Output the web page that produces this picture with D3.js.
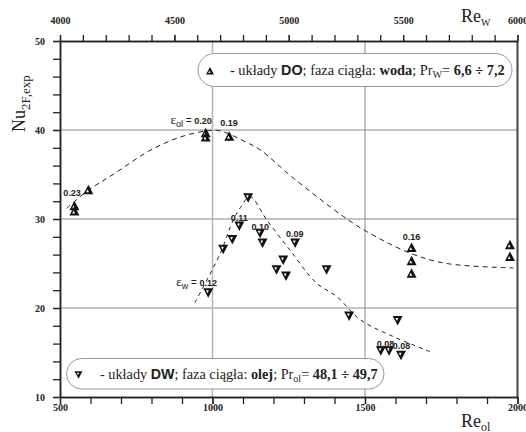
<!DOCTYPE html>
<html>
<head>
<meta charset="utf-8">
<script src="https://cdn.jsdelivr.net/npm/d3@7"></script>
<style>
body { margin:0; background:#fff; }
svg { display:block; }
.tick text { font-family:"Liberation Serif","Times New Roman",serif; font-weight:bold; font-size:10px; fill:#222; }
.small { font-family:"Liberation Sans",Arial,sans-serif; font-weight:bold; font-size:9px; fill:#222; }
</style>
</head>
<body>
<svg width="526" height="432"></svg>
<script>
//układy DO (faza ciągła woda) - plotted against Re_w (top axis)
var doRe = [4063, 4063, 4124, 4637, 4637, 4740, 5537, 5537, 5537, 5967, 5967];
var doNu = [31.5, 30.9, 33.3, 39.7, 39.2, 39.3, 26.8, 25.3, 23.9, 27.1, 25.8];

//układy DW (faza ciągła olej) - plotted against Re_ol (bottom axis)
var dwRe = [1117, 1088, 1065, 1035, 1156, 1164, 1271, 1232, 1210, 1241, 1374, 986, 1448, 1607, 1552, 1579, 1618];
var dwNu = [32.4, 29.2, 27.7, 26.6, 28.4, 27.3, 27.3, 25.4, 24.3, 23.6, 24.3, 21.7, 19.1, 18.6, 15.2, 15.2, 14.7];

//dashed trend curves
var doCurveRe = [4029, 4122, 4232, 4393, 4525, 4640, 4700, 4816, 4874, 5020, 5238, 5340, 5537, 5690, 5982];
var doCurveNu = [31.2, 33.2, 35.0, 37.7, 39.2, 39.9, 39.9, 38.6, 37.8, 34.6, 30.3, 28.6, 26.1, 25.0, 24.5];
var dwCurveRe = [942, 1025, 1068, 1092, 1123, 1178, 1254, 1341, 1407, 1484, 1592, 1713];
var dwCurveNu = [20.6, 26.1, 29.9, 31.3, 32.5, 29.9, 26.5, 22.8, 21.3, 18.7, 16.8, 15.1];

//epsilon labels
var doLabelText = ["0.23", "0.19", "0.16"];
var doLabelRe = [4052, 4739, 5537];
var doLabelNu = [32.6, 40.45, 27.6];
var dwLabelText = ["0.11", "0.10", "0.09", "0.08", "0.08"];
var dwLabelRe = [1088, 1157, 1270, 1567, 1620];
var dwLabelNu = [29.8, 28.8, 28.0, 15.65, 15.4];

//ticks
var yMajor = [10, 20, 30, 40, 50];
var yMinor = d3.range(10, 51, 2);
var xBotMajor = [500, 1000, 1500, 2000];
var xBotMinor = d3.range(500, 2001, 100);
var xTopMajor = [4000, 4500, 5000, 5500, 6000];
var xTopMinor = d3.range(4000, 6001, 100);
var hGrid = [40, 30, 20];
var vGrid = [1000, 1500];

var serif = '"Liberation Serif","Times New Roman",serif';
var sans = '"Liberation Sans",Arial,sans-serif';

var svg = d3.select("svg");
var margins = {left:60, right:8.5, top:41, bottom:35};
var width = 526 - margins.left - margins.right;
var height = 432 - margins.top - margins.bottom;

var xBot = d3.scaleLinear().domain([500, 2000]).range([margins.left, margins.left + width]);
var xTop = d3.scaleLinear().domain([4000, 6000]).range([margins.left, margins.left + width]);
var yScale = d3.scaleLinear().domain([10, 50]).range([margins.top + height, margins.top]);

//grid
svg.append("g").selectAll("line")
    .data(hGrid)
    .enter()
    .append("line")
    .attr("x1", margins.left).attr("x2", margins.left + width)
    .attr("y1", function(d){return yScale(d);})
    .attr("y2", function(d){return yScale(d);})
    .attr("stroke", function(d){return d == 30 ? "#c4c4c4" : "#8a8a8a";})
    .attr("stroke-width", function(d){return d == 30 ? 2 : 1;});

svg.append("g").selectAll("line")
    .data(vGrid)
    .enter()
    .append("line")
    .attr("y1", margins.top).attr("y2", margins.top + height)
    .attr("x1", function(d){return xBot(d);})
    .attr("x2", function(d){return xBot(d);})
    .attr("stroke", function(d){return d == 1000 ? "#b4b4b4" : "#8a8a8a";})
    .attr("stroke-width", function(d){return d == 1000 ? 1.5 : 1;});

//right frame
svg.append("line")
    .attr("x1", margins.left + width).attr("x2", margins.left + width)
    .attr("y1", margins.top).attr("y2", margins.top + height)
    .attr("stroke", "#444").attr("stroke-width", 2);

//axes
var styleAxis = function(g)
{
    g.attr("font-family", null);
    g.select(".domain").attr("stroke", "#222").attr("stroke-width", 1.5);
    g.selectAll(".tick line").attr("stroke", "#222").attr("stroke-width", 1.3);
}

svg.append("g")
    .attr("transform", "translate(" + margins.left + ",0)")
    .call(d3.axisLeft(yScale).tickValues(yMinor).tickSize(7).tickSizeOuter(0).tickFormat(""))
    .call(styleAxis);
svg.append("g")
    .attr("transform", "translate(" + margins.left + ",0)")
    .call(d3.axisLeft(yScale).tickValues(yMajor).tickSize(7).tickPadding(8).tickSizeOuter(0).tickFormat(d3.format("d")))
    .call(styleAxis);

svg.append("g")
    .attr("transform", "translate(0," + (margins.top + height) + ")")
    .call(d3.axisBottom(xBot).tickValues(xBotMinor).tickSize(7).tickSizeOuter(0).tickFormat(""))
    .call(styleAxis);
svg.append("g")
    .attr("transform", "translate(0," + (margins.top + height) + ")")
    .call(d3.axisBottom(xBot).tickValues(xBotMajor).tickSize(7).tickPadding(0).tickSizeOuter(0).tickFormat(d3.format("d")))
    .call(styleAxis);

svg.append("g")
    .attr("transform", "translate(0," + margins.top + ")")
    .call(d3.axisTop(xTop).tickValues(xTopMinor).tickSize(6).tickSizeOuter(0).tickFormat(""))
    .call(styleAxis);
svg.append("g")
    .attr("transform", "translate(0," + margins.top + ")")
    .call(d3.axisTop(xTop).tickValues(xTopMajor).tickSize(6).tickPadding(11).tickSizeOuter(0).tickFormat(d3.format("d")))
    .call(styleAxis);

//axis titles
var reW = svg.append("text")
    .attr("x", 461).attr("y", 22)
    .attr("font-family", serif).attr("font-size", 18).attr("fill", "#222");
reW.append("tspan").text("Re");
reW.append("tspan").attr("font-size", 10).attr("dy", 4).text("W");

var reOl = svg.append("text")
    .attr("x", 461).attr("y", 427)
    .attr("font-family", serif).attr("font-size", 18).attr("fill", "#222");
reOl.append("tspan").text("Re");
reOl.append("tspan").attr("font-size", 12).attr("dy", 4).text("ol");

var nu = svg.append("text")
    .attr("transform", "translate(25,132) rotate(-90)")
    .attr("font-family", serif).attr("font-size", 18).attr("fill", "#222");
nu.append("tspan").text("Nu");
nu.append("tspan").attr("font-size", 13).attr("dy", 5).text("2F,exp");

//dashed curves
var doLine = d3.line()
    .x(function(d){return xTop(d[0]);})
    .y(function(d){return yScale(d[1]);})
    .curve(d3.curveCatmullRom);
var dwLine = d3.line()
    .x(function(d){return xBot(d[0]);})
    .y(function(d){return yScale(d[1]);})
    .curve(d3.curveCatmullRom);

svg.append("path")
    .attr("d", doLine(d3.zip(doCurveRe, doCurveNu)))
    .attr("fill", "none").attr("stroke", "#222").attr("stroke-width", 1)
    .attr("stroke-dasharray", "5,4");
svg.append("path")
    .attr("d", dwLine(d3.zip(dwCurveRe, dwCurveNu)))
    .attr("fill", "none").attr("stroke", "#222").attr("stroke-width", 1)
    .attr("stroke-dasharray", "4,4");

//markers: bold delta / nabla
var upPath = "M0,-5L5,4.5L-5,4.5Z";
var upHole = "M-0.8,-0.5L0.6,2.5L-2.2,2.5Z";
var downPath = "M0,5L5,-4.5L-5,-4.5Z";
var downHole = "M-0.8,0.5L0.6,-2.5L-2.2,-2.5Z";

var drawMarker = function(g, up)
{
    g.append("path").attr("d", up ? upPath : downPath).attr("fill", "#111");
    g.append("path").attr("d", up ? upHole : downHole).attr("fill", "#fff");
}

svg.append("g").selectAll("g")
    .data(d3.zip(doRe, doNu))
    .enter()
    .append("g")
    .attr("transform", function(d){return "translate(" + xTop(d[0]) + "," + yScale(d[1]) + ")";})
    .each(function(){drawMarker(d3.select(this), true);});

svg.append("g").selectAll("g")
    .data(d3.zip(dwRe, dwNu))
    .enter()
    .append("g")
    .attr("transform", function(d){return "translate(" + xBot(d[0]) + "," + yScale(d[1]) + ")";})
    .each(function(){drawMarker(d3.select(this), false);});

//epsilon labels
svg.append("g").selectAll("text")
    .data(d3.zip(doLabelRe, doLabelNu, doLabelText))
    .enter()
    .append("text")
    .classed("small", true)
    .attr("text-anchor", "middle")
    .attr("x", function(d){return xTop(d[0]);})
    .attr("y", function(d){return yScale(d[1]);})
    .text(function(d){return d[2];});

svg.append("g").selectAll("text")
    .data(d3.zip(dwLabelRe, dwLabelNu, dwLabelText))
    .enter()
    .append("text")
    .classed("small", true)
    .attr("text-anchor", "middle")
    .attr("x", function(d){return xBot(d[0]);})
    .attr("y", function(d){return yScale(d[1]);})
    .text(function(d){return d[2];});

var epsLabel = function(x, y, sub, val)
{
    var t = svg.append("text")
        .attr("x", x).attr("y", y)
        .attr("text-anchor", "end")
        .attr("fill", "#222");
    t.append("tspan").attr("font-family", serif).attr("font-size", 13).text("ε");
    t.append("tspan").attr("font-family", sans).attr("font-size", 9).attr("dy", 3).text(sub);
    t.append("tspan").attr("font-family", sans).attr("font-size", 10).attr("dy", -3).text(" = ");
    t.append("tspan").attr("font-family", sans).attr("font-weight", "bold").attr("font-size", 9).text(val);
}
epsLabel(xTop(4664), yScale(40.67), "ol", "0.20");
epsLabel(xBot(1015), yScale(22.5), "w", "0.12");

//legend boxes - text is fitted to run from textX to textEnd
var legendBox = function(x1, x2, y1, y2, up, textX, textEnd, parts)
{
    var g = svg.append("g");
    g.append("rect")
        .attr("x", x1).attr("y", y1)
        .attr("width", x2 - x1).attr("height", y2 - y1)
        .attr("rx", (y2 - y1) / 2).attr("ry", (y2 - y1) / 2)
        .attr("fill", "#fff").attr("stroke", "#999").attr("stroke-width", 1);
    var m = g.append("g")
        .attr("transform", "translate(" + (x1 + 12) + "," + ((y1 + y2) / 2 + 1) + ") scale(0.8)");
    drawMarker(m, up);
    var t = g.append("text")
        .attr("x", textX).attr("y", (y1 + y2) / 2 + 5)
        .attr("font-family", serif).attr("font-size", 13).attr("fill", "#222");
    parts.forEach(function(p)
    {
        var s = t.append("tspan").text(p.t);
        if (p.sans) s.attr("font-family", sans);
        if (p.b) s.attr("font-weight", "bold");
        if (p.sub) s.attr("font-size", "0.7em").attr("dy", 3);
        if (p.up) s.attr("dy", -3);
    });
    var len = t.node().getComputedTextLength();
    var fs = Math.min(16, 13 * (textEnd - textX) / len);
    t.attr("font-size", fs);
}

legendBox(198, 512, 53.5, 86.5, true, 230, 505, [
    {t:"- układy "}, {t:"DO", sans:true, b:true}, {t:"; faza ciągła: "}, {t:"woda", b:true},
    {t:"; Pr"}, {t:"W", sub:true}, {t:"= ", up:true}, {t:"6,6 ÷ 7,2", b:true}
]);
legendBox(66.5, 384, 358.5, 389, false, 100, 378, [
    {t:"- układy "}, {t:"DW", sans:true, b:true}, {t:"; faza ciągła: "}, {t:"olej", b:true},
    {t:"; Pr"}, {t:"ol", sub:true}, {t:"= ", up:true}, {t:"48,1 ÷ 49,7", b:true}
]);
</script>
</body>
</html>
